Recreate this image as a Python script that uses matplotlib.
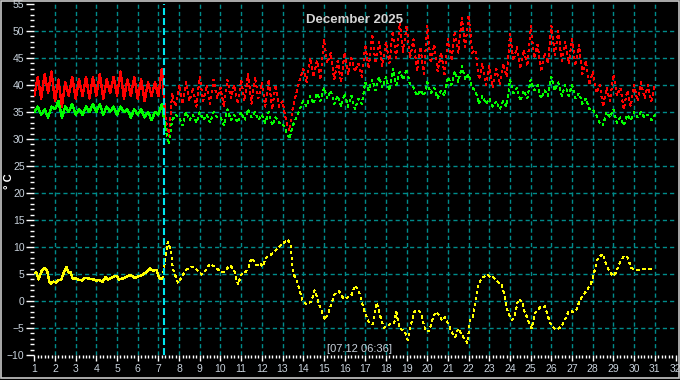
import numpy as np
import matplotlib.pyplot as plt
from matplotlib.patches import Rectangle
from matplotlib.ticker import MultipleLocator, FixedLocator

plt.rcParams['lines.scale_dashes'] = False
plt.rcParams['font.family'] = ['Liberation Sans', 'DejaVu Sans']

# ======================== DATA ========================
title = "December 2025"
unit_label = "° C"
cursor_label = "[07.12 06:36]"
cursor_day = 7 + (6 + 36 / 60) / 24   # 07.12 06:36

# one row per day, samples at 00, 04, 08, 12, 16, 20 h
red_rows = [
    [38.0, 41.5, 37.5, 42.0, 38.5, 42.5],  # 1
    [37.0, 41.0, 36.0, 40.5, 38.0, 41.5],
    [37.5, 41.0, 38.0, 41.5, 37.5, 41.5],
    [38.0, 42.0, 37.5, 41.0, 38.5, 41.5],
    [38.0, 42.5, 37.5, 41.0, 38.0, 41.5],  # 5
    [37.5, 41.0, 37.0, 40.5, 38.0, 40.5],
    [38.0, 43.0, 34.0, 30.5, 38.5, 36.0],
    [40.0, 36.5, 40.5, 37.0, 39.5, 36.0],
    [41.5, 37.0, 40.0, 36.5, 41.0, 37.5],
    [39.5, 36.0, 41.0, 37.5, 40.0, 36.5],  # 10
    [41.0, 37.0, 42.0, 36.5, 41.5, 37.5],
    [40.5, 36.0, 41.0, 35.5, 40.0, 36.0],
    [37.0, 33.5, 31.5, 36.0, 38.5, 41.0],
    [43.0, 40.5, 45.0, 41.5, 44.5, 41.0],
    [48.5, 44.0, 46.0, 41.0, 44.5, 40.5],  # 15
    [46.0, 42.0, 45.0, 42.5, 44.0, 41.5],
    [47.5, 43.0, 49.5, 44.0, 48.0, 43.5],
    [48.0, 44.0, 50.0, 45.0, 51.5, 46.0],
    [51.0, 45.0, 48.5, 42.5, 47.0, 42.0],
    [51.0, 44.0, 47.5, 42.5, 46.0, 42.0],  # 20
    [48.5, 44.5, 50.0, 46.0, 52.5, 47.0],
    [53.0, 46.0, 46.5, 41.0, 44.0, 40.0],
    [43.5, 39.5, 43.0, 40.0, 44.0, 41.5],
    [49.5, 44.5, 47.0, 43.0, 46.5, 43.5],
    [51.0, 45.0, 47.5, 42.5, 46.0, 44.0],  # 25
    [51.0, 45.5, 50.0, 44.5, 48.0, 44.0],
    [48.5, 43.5, 47.5, 42.0, 44.5, 40.0],
    [42.5, 38.5, 40.0, 36.0, 39.5, 37.0],
    [42.0, 38.0, 39.5, 35.5, 39.0, 36.0],
    [40.0, 37.0, 40.5, 37.5, 40.0, 37.0],  # 30
]
red_last = 40.0

green_rows = [
    [35.0, 36.0, 34.5, 35.5, 34.0, 36.0],  # 1
    [35.5, 37.0, 34.0, 36.0, 35.0, 36.5],
    [34.5, 35.5, 34.5, 36.0, 35.0, 36.5],
    [35.0, 36.5, 34.5, 36.0, 35.0, 36.0],
    [34.5, 36.0, 35.0, 35.5, 34.0, 35.5],  # 5
    [34.5, 35.5, 34.0, 35.0, 33.5, 35.0],
    [34.5, 36.5, 32.0, 29.0, 33.5, 34.5],
    [34.0, 32.5, 35.0, 33.5, 34.5, 33.0],
    [35.0, 33.5, 34.5, 33.0, 35.0, 34.0],
    [34.0, 32.5, 35.5, 33.5, 34.5, 33.0],  # 10
    [35.0, 33.5, 35.5, 34.0, 35.0, 33.5],
    [34.5, 33.0, 35.0, 32.5, 34.0, 33.0],
    [33.0, 31.5, 30.0, 32.5, 34.0, 35.5],
    [37.0, 36.0, 38.0, 36.5, 38.5, 37.0],
    [39.5, 37.5, 39.0, 36.5, 38.0, 36.0],  # 15
    [38.5, 36.0, 38.0, 35.5, 37.5, 36.5],
    [40.5, 39.0, 41.0, 39.0, 41.5, 39.5],
    [41.5, 39.0, 43.0, 40.0, 42.5, 41.0],
    [43.0, 40.0, 39.5, 38.0, 39.0, 38.0],
    [40.5, 38.5, 39.5, 37.5, 39.0, 38.0],  # 20
    [41.5, 40.0, 42.5, 40.5, 43.5, 41.0],
    [42.0, 39.5, 39.0, 36.5, 38.0, 36.5],
    [37.5, 36.0, 37.0, 35.5, 37.0, 36.0],
    [41.0, 38.5, 39.5, 37.0, 39.0, 37.5],
    [41.0, 39.0, 40.0, 37.5, 39.0, 38.0],  # 25
    [41.5, 39.0, 40.5, 38.0, 40.0, 38.0],
    [40.0, 37.5, 38.5, 36.5, 37.5, 35.5],
    [35.5, 34.5, 33.0, 32.5, 35.0, 34.0],
    [35.5, 33.0, 34.0, 32.5, 34.5, 33.5],
    [35.0, 34.0, 35.0, 34.0, 34.5, 33.5],  # 30
]
green_last = 34.5

yellow_days = [
    1.0, 1.1, 1.2, 1.35, 1.5, 1.63, 1.73, 1.8, 1.92, 2.05, 2.15, 2.3, 2.45,
    2.55, 2.65, 2.75, 2.85, 3.0, 3.18, 3.3, 3.45, 3.6, 3.85, 4.0, 4.15, 4.3,
    4.45, 4.55, 4.7, 4.9, 5.0, 5.1, 5.3, 5.55, 5.7, 5.85, 6.0, 6.2, 6.4, 6.6,
    6.75, 6.9, 7.05, 7.2,
    7.45, 7.6, 7.7, 7.95, 8.1, 8.35, 8.6, 8.85, 9.1, 9.3, 9.5, 9.7, 9.9,
    10.15, 10.45, 10.65, 10.85, 11.0, 11.2, 11.35, 11.5, 11.75, 11.9, 12.05,
    12.2, 12.55, 12.85, 13.25, 13.4, 13.5, 13.65, 13.8, 13.95, 14.15, 14.4,
    14.55, 14.65, 14.8, 15.05, 15.2, 15.4, 15.5, 15.75, 15.95, 16.2, 16.35,
    16.5, 16.7, 16.9, 17.15, 17.35, 17.55, 17.7, 17.9, 18.2, 18.4, 18.5,
    18.65, 18.9, 19.05, 19.25, 19.4, 19.55, 19.7, 19.85, 19.95, 20.1, 20.25,
    20.4, 20.6, 20.7, 20.85, 21.0, 21.2, 21.35, 21.5, 21.65, 21.8, 21.95,
    22.05, 22.2, 22.3, 22.45, 22.65, 22.9, 23.05, 23.2, 23.4, 23.6, 23.75,
    23.9, 24.1, 24.25, 24.4, 24.6, 24.65, 24.8, 24.95, 25.05, 25.2, 25.45,
    25.7, 25.8, 26.0, 26.25, 26.5, 26.65, 26.85, 27.05, 27.2, 27.35, 27.55,
    27.75, 27.95, 28.1, 28.25, 28.5, 28.6, 28.8, 29.0, 29.15, 29.3, 29.5,
    29.7, 29.85, 30.05, 30.3, 30.45, 30.75, 30.95,
]
yellow_vals = [
    5.2, 5.3, 4.0, 5.5, 6.1, 5.5, 3.6, 3.2, 3.6, 3.4, 3.9, 3.9, 5.5,
    6.3, 5.3, 5.3, 4.2, 4.2, 3.9, 3.8, 4.3, 4.2, 4.0, 3.8, 3.9, 3.5,
    4.5, 4.0, 4.2, 4.7, 4.5, 4.0, 4.2, 4.7, 4.7, 4.3, 4.5, 4.8, 5.3, 6.0,
    5.6, 5.8, 4.2, 4.1,
    11.0, 9.5, 6.0, 3.3, 4.3, 5.8, 6.4, 5.8, 4.9, 5.8, 6.9, 6.4, 5.8,
    5.3, 6.6, 5.8, 3.0, 4.9, 5.3, 6.1, 8.0, 6.6, 7.0, 6.4,
    8.0, 8.9, 10.1, 11.4, 10.4, 5.0, 4.3, 2.4, 0.2, -0.6, -0.1,
    2.0, 0.9, -1.0, -3.5, -2.4, -0.1, 1.2, 1.8, 0.4, 0.7, 1.2,
    2.9, 1.8, -1.2, -3.8, -4.3, -0.3, -2.5, -5.0, -4.3, -4.1, -2.0,
    -5.0, -5.6, -7.2, -3.8, -1.8, -1.6, -2.4, -4.7, -5.7, -5.5, -3.5,
    -2.0, -2.7, -3.6, -3.0, -4.1, -5.9, -6.7, -5.1, -6.2, -7.0, -7.8,
    -3.5, -3.1, -0.7, 3.0, 4.3, 4.9, 4.4, 4.4, 3.6, 3.0, 0.9,
    -2.2, -3.5, -2.4, 0.4, -0.1, -1.6, -2.8, -4.4, -5.1, -2.2, -1.2,
    -1.0, -2.5, -4.7, -5.3, -4.7, -3.5, -1.8, -2.0, -1.8, -0.1, 1.2,
    2.1, 3.6, 5.8, 8.0, 8.7, 7.3, 5.5, 4.6, 5.5, 7.0, 8.3,
    8.0, 6.1, 5.8, 5.8, 5.9, 6.0, 6.0,
]

x_ticks = list(range(1, 33))
y_ticks = list(range(-10, 56, 5))

# ======================== BUILD SERIES ========================
red = np.append(np.ravel(red_rows), red_last)
green = np.append(np.ravel(green_rows), green_last)
t = 1 + np.arange(len(red)) / 6

yd = np.array(yellow_days)
yv = np.array(yellow_vals)

solid = t <= cursor_day + 0.06
dashed = t >= cursor_day - 0.11
y_solid = yd <= 7.2
y_dashed = yd >= 7.2

# ======================== PLOT ========================
fig = plt.figure(figsize=(6.8, 3.8), dpi=100, facecolor='black')
ax = fig.add_axes([34.3 / 680, 25 / 380, 641.2 / 680, 351 / 380])
ax.set_facecolor('black')

grid_c = '#008b8b'
ax.set_xlim(1, 32)
ax.set_ylim(-10, 55)
ax.xaxis.set_major_locator(FixedLocator(x_ticks))
ax.yaxis.set_major_locator(FixedLocator(y_ticks))
ax.xaxis.set_minor_locator(MultipleLocator(1 / 6))
ax.yaxis.set_minor_locator(MultipleLocator(1))
ax.grid(True, which='major', color=grid_c, linestyle=(0, (3, 2.2)), linewidth=1)
for gl in (ax.get_xgridlines()[0], ax.get_xgridlines()[-1],
           ax.get_ygridlines()[0], ax.get_ygridlines()[-1]):
    gl.set_visible(False)

for s in ax.spines.values():
    s.set_visible(False)

lab_c = '#c8d2dc'
ax.tick_params(axis='y', which='major', length=6, width=1, color='white',
               labelcolor=lab_c, labelsize=7.5, pad=1)
ax.tick_params(axis='y', which='minor', length=3, width=1, color='white')
ax.tick_params(axis='x', which='major', length=4.5, width=1, color='white',
               labelcolor=lab_c, labelsize=7.5, pad=2)
ax.tick_params(axis='x', which='minor', length=2.5, width=1, color='white')

# solid before the cursor, dashed after
dash = (0, (2, 2.4))
ax.plot(t[solid], red[solid], color='#ff0000', lw=1, antialiased=False)
ax.plot(t[dashed], red[dashed], color='#ff0000', lw=1, linestyle=dash, antialiased=False)
ax.plot(t[solid], green[solid], color='#00ff00', lw=1, antialiased=False)
ax.plot(t[dashed], green[dashed], color='#00ff00', lw=1, linestyle=dash, antialiased=False)
ax.plot(yd[y_solid], yv[y_solid], color='#ffff00', lw=1, antialiased=False)
ax.plot(yd[y_dashed], yv[y_dashed], color='#ffff00', lw=1, linestyle=dash, antialiased=False)

ax.axvline(cursor_day, color='#00e5ee', lw=1.5, linestyle=(0, (5, 2.2)))

ax.text(0.5, 0.955, title, transform=ax.transAxes, ha='center', va='center',
        color='#d4d4d4', fontsize=9.5, fontweight='bold')
ax.text(16.7, -8.9, cursor_label, ha='center', va='center', color=lab_c, fontsize=8)
fig.text(9 / 680, 0.522, unit_label, rotation=90, ha='center', va='center',
         color='white', fontsize=8, fontweight='bold')

fig.patches.append(Rectangle((0.6 / 680, 2.5 / 380), 678 / 680, 376.5 / 380,
                             transform=fig.transFigure, fill=False,
                             edgecolor='#c8c8c8', lw=1.2))

fig.savefig('out.png', dpi=100, facecolor='black')
